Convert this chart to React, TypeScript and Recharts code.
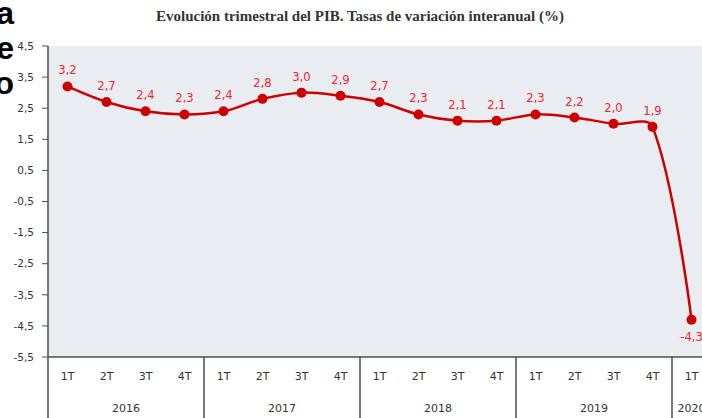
import React from 'react';
import { LineChart, Line, XAxis, YAxis, CartesianGrid, LabelList } from 'recharts';

const periodYears = ['2016', '2016', '2016', '2016', '2017', '2017', '2017', '2017', '2018', '2018', '2018', '2018', '2019', '2019', '2019', '2019', '2020'];
const periodQuarters = ['1T', '2T', '3T', '4T', '1T', '2T', '3T', '4T', '1T', '2T', '3T', '4T', '1T', '2T', '3T', '4T', '1T'];
const gdpGrowth = [3.2, 2.7, 2.4, 2.3, 2.4, 2.8, 3.0, 2.9, 2.7, 2.3, 2.1, 2.1, 2.3, 2.2, 2.0, 1.9, -4.3];
const yTicks = [4.5, 3.5, 2.5, 1.5, 0.5, -0.5, -1.5, -2.5, -3.5, -4.5, -5.5];
const title = 'Evolución trimestral del PIB. Tasas de variación interanual (%)';
const strayLetters = ['a', 'e', 'o'];

const rows = gdpGrowth.map((v, i) => ({
  key: `${periodYears[i]} ${periodQuarters[i]}`,
  year: periodYears[i],
  quarter: periodQuarters[i],
  value: v,
}));

const fmt = (v: number) => v.toFixed(1).replace('.', ',');

// Excel-like smoothing: tangent along neighbours, split by segment lengths
function smoothCurve(context: any) {
  let pts: [number, number][] = [];
  return {
    areaStart() {},
    areaEnd() {},
    lineStart() { pts = []; },
    point(x: number, y: number) { pts.push([+x, +y]); },
    lineEnd() {
      const n = pts.length;
      if (n === 0) return;
      context.moveTo(pts[0][0], pts[0][1]);
      if (n === 1) return;
      const before: [number, number][] = [];
      const after: [number, number][] = [];
      for (let i = 0; i < n; i++) {
        const p = pts[i];
        if (i === 0 || i === n - 1) { before.push(p); after.push(p); continue; }
        const p0 = pts[i - 1];
        const p2 = pts[i + 1];
        const tx = p2[0] - p0[0];
        const ty = p2[1] - p0[1];
        const d01 = Math.hypot(p[0] - p0[0], p[1] - p0[1]);
        const d12 = Math.hypot(p2[0] - p[0], p2[1] - p[1]);
        const s = d01 + d12 || 1;
        const a = (d01 / s) / 3;
        const b = (d12 / s) / 3;
        before.push([p[0] - tx * a, p[1] - ty * a]);
        after.push([p[0] + tx * b, p[1] + ty * b]);
      }
      for (let i = 1; i < n; i++) {
        const c1 = after[i - 1];
        const c2 = before[i];
        context.bezierCurveTo(c1[0], c1[1], c2[0], c2[1], pts[i][0], pts[i][1]);
      }
    },
  };
}

const axisFont = '"DejaVu Sans", Verdana, sans-serif';

const XTick = (props: any) => {
  const { x, y, payload, index } = props;
  const half = payload && payload.offset ? payload.offset : 19.5;
  const r = rows[index];
  if (!r) return null;
  const isFirstOfYear = index === 0 || rows[index - 1].year !== r.year;
  const count = rows.filter((d) => d.year === r.year).length;
  return (
    <g>
      <text x={x} y={y + 23} textAnchor="middle" fontSize={11} fontFamily={axisFont} fill="#333">
        {r.quarter}
      </text>
      {isFirstOfYear && (
        <>
          <line x1={x - half} x2={x - half} y1={y} y2={y + 70} stroke="#4d4d4d" strokeWidth={1.5} />
          <text x={x - half + count * half} y={y + 55} textAnchor="middle" fontSize={11} fontFamily={axisFont} fill="#333">
            {r.year}
          </text>
        </>
      )}
    </g>
  );
};

const PointLabel = (props: any) => {
  const { x, y, value } = props;
  const below = value < 0;
  return (
    <text
      x={x}
      y={below ? y + 21 : y - 12}
      textAnchor="middle"
      fontSize={11.5}
      fontFamily={axisFont}
      fill="#E8262E"
    >
      {fmt(value)}
    </text>
  );
};

export default function App() {
  return (
    <div style={{ position: 'absolute', left: 0, top: 0, width: 702, height: 418, overflow: 'hidden', background: '#fff' }}>
      <div
        style={{
          position: 'absolute', left: -12, top: -4, width: 26, textAlign: 'right',
          fontFamily: '"Liberation Sans", Arial, sans-serif', fontWeight: 'bold', fontSize: 32,
          lineHeight: '35px', color: '#000',
        }}
      >
        {strayLetters.map((l) => (<div key={l}>{l}</div>))}
      </div>
      <div
        style={{
          position: 'absolute', left: 0, top: 8, width: 720, textAlign: 'center',
          fontFamily: '"Liberation Serif", "Times New Roman", serif', fontWeight: 'bold', fontSize: 15,
          color: '#333',
        }}
      >
        {title}
      </div>
      <div style={{ position: 'absolute', left: 0, top: 0 }}>
        <LineChart width={720} height={418} data={rows} margin={{ top: 46, right: 9, bottom: 0, left: 0 }}>
          <CartesianGrid horizontal={false} vertical={false} fill="#E9ECF0" stroke="none" />
          <XAxis
            dataKey="key"
            scale="band"
            height={61}
            interval={0}
            tickLine={false}
            tickSize={0}
            tickMargin={0}
            axisLine={{ stroke: '#4d4d4d', strokeWidth: 1.5 }}
            tick={<XTick />}
          />
          <YAxis
            width={48}
            domain={[-5.5, 4.5]}
            ticks={yTicks}
            interval={0}
            tickFormatter={fmt}
            tickSize={6}
            tickMargin={8}
            axisLine={{ stroke: '#4d4d4d', strokeWidth: 1.5 }}
            tickLine={{ stroke: '#4d4d4d' }}
            tick={{ fontSize: 10.5, fontFamily: axisFont, fill: '#333' }}
          />
          <Line
            dataKey="value"
            type={smoothCurve as any}
            stroke="#CC0000"
            strokeWidth={2.5}
            dot={{ r: 5, fill: '#CC0000', stroke: 'none' }}
            activeDot={false}
            isAnimationActive={false}
          >
            <LabelList dataKey="value" content={<PointLabel />} />
          </Line>
        </LineChart>
      </div>
    </div>
  );
}
